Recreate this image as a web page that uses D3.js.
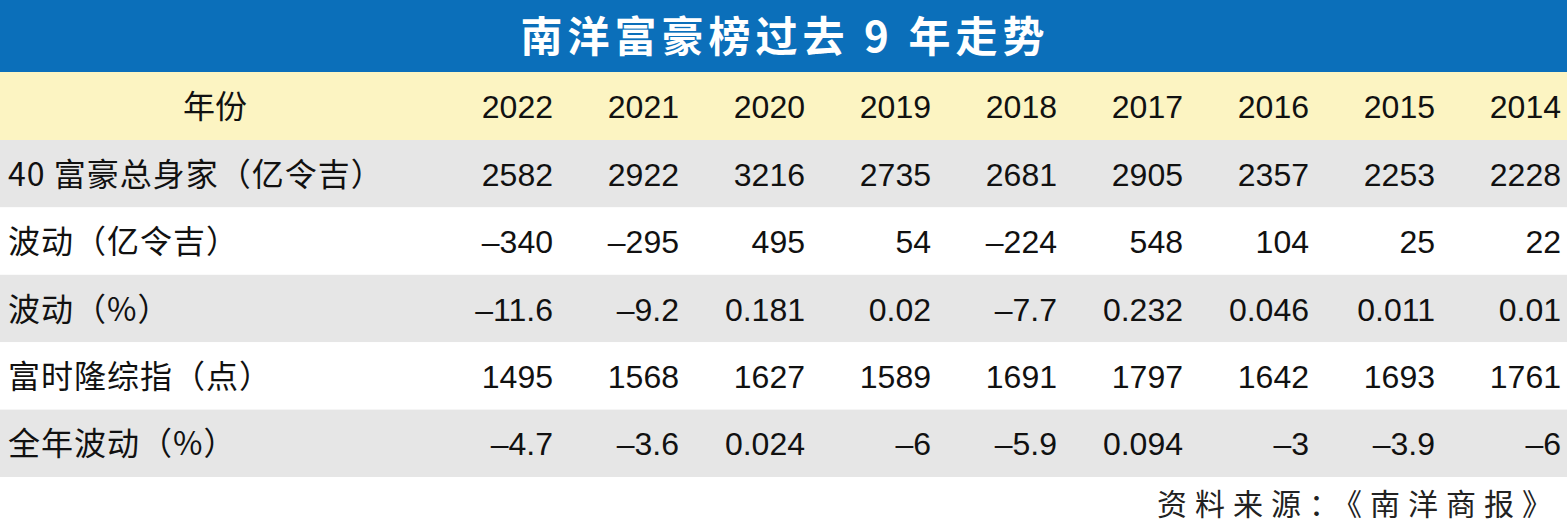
<!DOCTYPE html>
<html><head><meta charset="utf-8">
<script src="https://cdn.jsdelivr.net/npm/d3@7"></script>
<style>body{margin:0;background:#fff}svg{display:block}</style>
</head><body><svg id="c" width="1567" height="531"></svg>
<script>
const title = "南洋富豪榜过去 9 年走势";
const years = ["2022","2021","2020","2019","2018","2017","2016","2015","2014"];
const rowLabels = ["40 富豪总身家（亿令吉）","波动（亿令吉）","波动（%）","富时隆综指（点）","全年波动（%）"];
const wealth = ["2582","2922","3216","2735","2681","2905","2357","2253","2228"];
const changeAmt = ["–340","–295","495","54","–224","548","104","25","22"];
const changePct = ["–11.6","–9.2","0.181","0.02","–7.7","0.232","0.046","0.011","0.01"];
const klci = ["1495","1568","1627","1589","1691","1797","1642","1693","1761"];
const klciPct = ["–4.7","–3.6","0.024","–6","–5.9","0.094","–3","–3.9","–6"];
const rows = [wealth, changeAmt, changePct, klci, klciPct];
const source = "资料来源：《南洋商报》";

const svg = d3.select("#c");
const W = 1567;
const font = "'Liberation Sans','Noto Sans CJK SC',sans-serif";
const x = d3.scalePoint().domain(years).range([553, 1561]);
const y = d3.scaleBand().domain(d3.range(rows.length)).range([140, 477]);

svg.append("rect").attr("x",0).attr("y",0).attr("width",W).attr("height",72).attr("fill","#0b6fba");
svg.append("text").attr("x",785).attr("y",52).attr("text-anchor","middle")
  .attr("fill","#fff").attr("font-size",42).attr("font-weight","bold").attr("letter-spacing",5)
  .attr("font-family","'Noto Sans CJK SC',sans-serif").text(title);

svg.append("rect").attr("x",0).attr("y",72).attr("width",W).attr("height",68).attr("fill","#fcf4c2");
svg.append("text").attr("x",215).attr("y",118).attr("text-anchor","middle")
  .attr("font-size",32).attr("font-family","'Noto Sans CJK SC',sans-serif").attr("fill","#111").text("年份");
svg.selectAll("text.yr").data(years).join("text").attr("class","yr")
  .attr("x",d=>x(d)).attr("y",118).attr("text-anchor","end")
  .attr("font-size",32).attr("font-family",font).attr("fill","#111").text(d=>d);

rows.forEach((r,i)=>{
  const g = svg.append("g");
  g.append("rect").attr("x",0).attr("y",y(i)).attr("width",W).attr("height",y.bandwidth())
    .attr("fill", i%2===0 ? "#e6e6e6" : "#ffffff");
  const ty = y(i)+y.bandwidth()/2+12;
  g.append("text").attr("x",8).attr("y",ty).attr("font-size",32).attr("letter-spacing",1)
    .attr("font-family","'Noto Sans CJK SC',sans-serif").attr("fill","#111").text(rowLabels[i]);
  g.selectAll("text.v").data(r).join("text").attr("class","v")
    .attr("x",(d,j)=>x(years[j])).attr("y",ty).attr("text-anchor","end")
    .attr("font-size",32).attr("font-family",font).attr("fill","#111").text(d=>d);
});

svg.append("text").attr("x",1560).attr("y",515).attr("text-anchor","end")
  .attr("font-size",30).attr("letter-spacing",8).attr("font-family","'Noto Sans CJK SC',serif")
  .attr("fill","#222").text(source);
</script></body></html>
